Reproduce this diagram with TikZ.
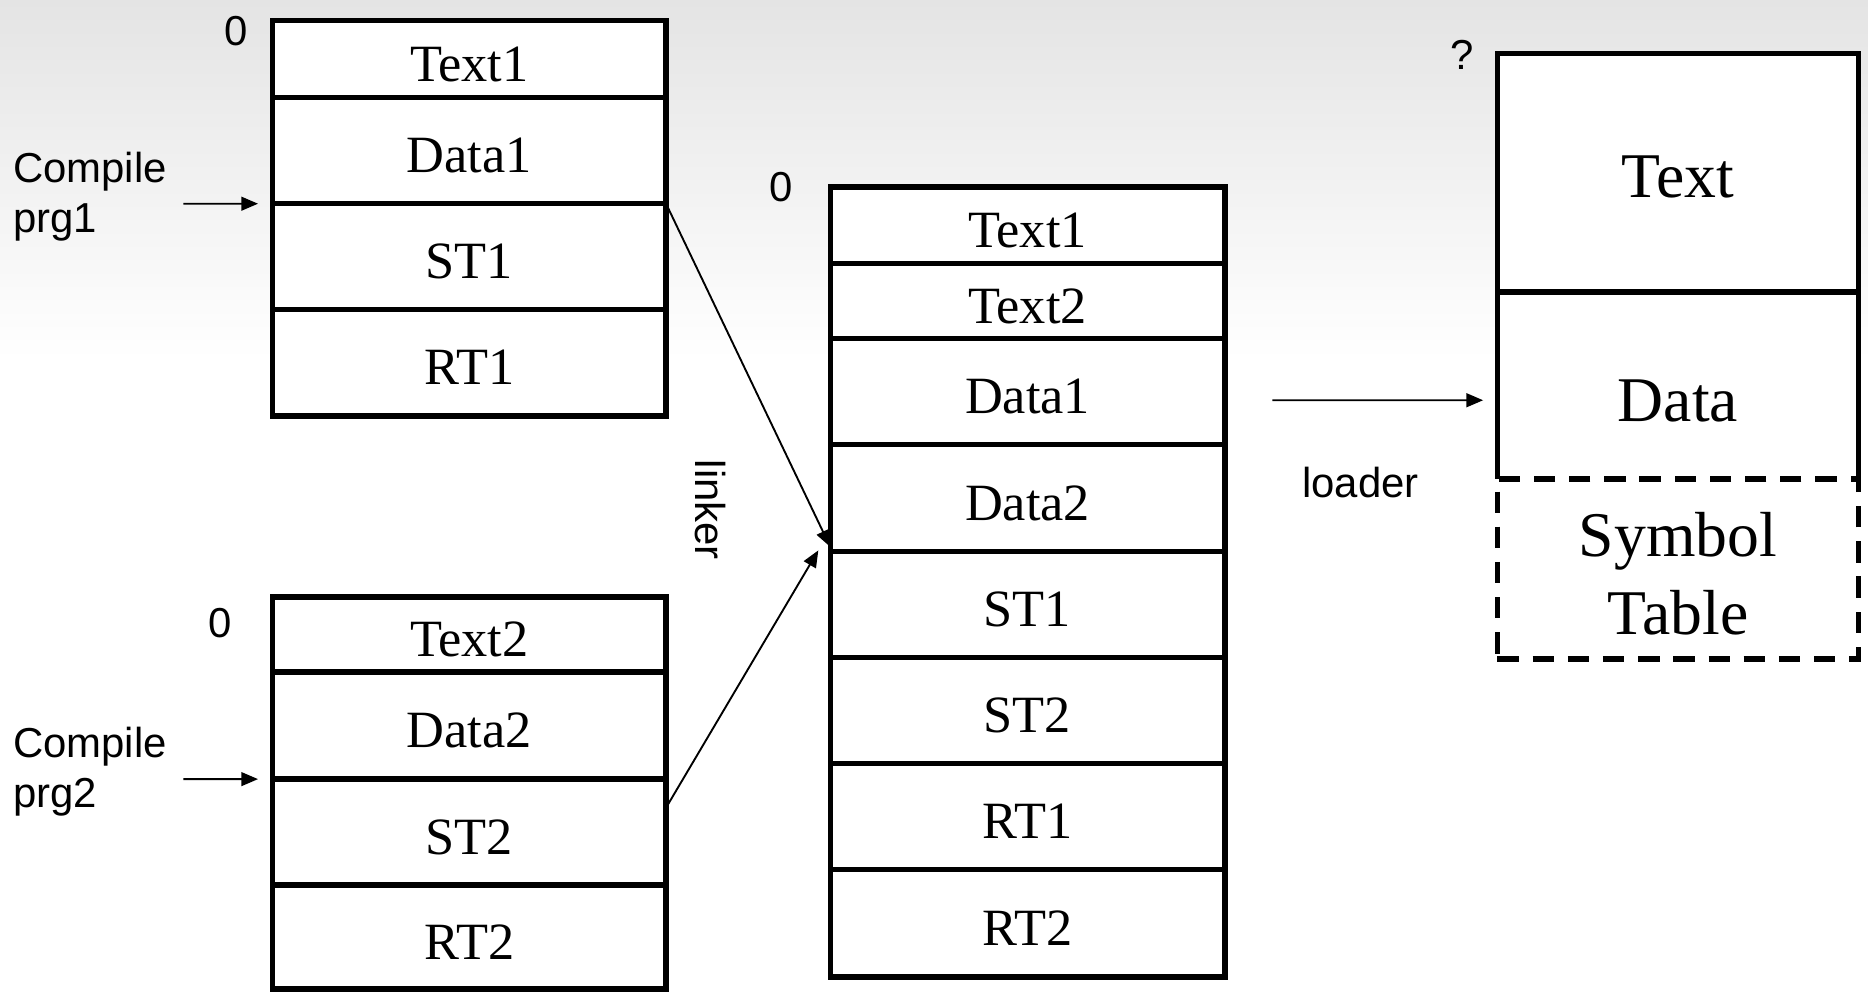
\documentclass[tikz,border=0pt]{standalone}
\usepackage{fontspec}
\setmainfont{Liberation Serif}
\setsansfont{Liberation Sans}
\usetikzlibrary{arrows.meta,calc}
\definecolor{bgtop}{RGB}{228,228,228}
\begin{document}
\begin{tikzpicture}[x=0.01cm, y=-0.01cm,
  seg/.style={draw, line width=1.3pt, fill=white, minimum width=3.30cm, inner sep=0pt, outer sep=0pt,
    font=\fontsize{12.5}{15}\selectfont, text height=10.6pt, text depth=0pt},
  rseg/.style={line width=1.3pt, fill=white, minimum width=3.03cm, inner sep=0pt, outer sep=0pt,
    font=\fontsize{15.2}{18.5}\selectfont},
  dashbox/.style={draw, dash pattern=on 5.1pt off 3.3pt},
  lab/.style={font=\sffamily\fontsize{10}{12}\selectfont, inner sep=0pt, outer sep=0pt},
  arr/.style={-{Triangle[length=4pt,width=3.3pt]}, line width=0.45pt},
  side/.style={line width=1.3pt}
]
% background
\shade[top color=bgtop, bottom color=white] (0,0) rectangle (1568,302);
\fill[white] (0,302) rectangle (1568,832);
\useasboundingbox (0,0) rectangle (1568,832);

% box 1
\node[seg, minimum height=0.65cm] (b1t) at (394,49.5) {Text1};
\node[seg, minimum height=0.89cm] (b1d) at (394,126.5) {Data1};
\node[seg, minimum height=0.89cm] (b1s) at (394,215.5) {ST1};
\node[seg, minimum height=0.89cm] (b1r) at (394,304.5) {RT1};

% box 2
\node[seg, minimum height=0.63cm] (b2t) at (394,532.5) {Text2};
\node[seg, minimum height=0.90cm] (b2d) at (394,609) {Data2};
\node[seg, minimum height=0.89cm] (b2s) at (394,698.5) {ST2};
\node[seg, minimum height=0.87cm] (b2r) at (394,786.5) {RT2};

% middle box
\node[seg, minimum width=3.31cm, minimum height=0.64cm] (mt1) at (862.5,189) {Text1};
\node[seg, minimum width=3.31cm, minimum height=0.63cm] (mt2) at (862.5,252.5) {Text2};
\node[seg, minimum width=3.31cm, minimum height=0.89cm] (md1) at (862.5,328.5) {Data1};
\node[seg, minimum width=3.31cm, minimum height=0.90cm] (md2) at (862.5,418) {Data2};
\node[seg, minimum width=3.31cm, minimum height=0.89cm] (mst1) at (862.5,507.5) {ST1};
\node[seg, minimum width=3.31cm, minimum height=0.89cm] (mst2) at (862.5,596.5) {ST2};
\node[seg, minimum width=3.31cm, minimum height=0.89cm] (mrt1) at (862.5,685.5) {RT1};
\node[seg, minimum width=3.31cm, minimum height=0.90cm] (mrt2) at (862.5,775) {RT2};

% right box
\node[rseg, minimum height=1.57cm, text height=17.4pt, text depth=0pt] (rd) at (1408.5,323.5) {Data};
\node[rseg, draw, minimum height=2.00cm, text height=11.9pt, text depth=0pt] (rt) at (1408.5,145) {Text};
\draw[side] (rd.north west) -- (rd.south west);
\draw[side] (rd.north east) -- (rd.south east);
\node[rseg, dashbox, minimum height=1.51cm] (rs) at (1408.5,477.5) {};
\node[font=\fontsize{15.2}{18.5}\selectfont, align=center, inner sep=0pt] (rst) at ($(rs.center)+(0,4)$) {Symbol\\Table};

% labels
\node[lab, anchor=base] (z1) at (198,38) {0};
\node[lab, anchor=base] (z2) at (184.5,535) {0};
\node[lab, anchor=base] (z3) at (656,169) {0};
\node[lab, anchor=base] (q) at (1227,58) {?};
\node[lab, anchor=west, align=left] (c1) at (11,165) {Compile\\prg1};
\node[lab, anchor=west, align=left] (c2) at (11,648) {Compile\\prg2};
\node[lab, rotate=-90] (lk) at (596,428) {linker};
\node[lab, anchor=base] (ld) at (1142,418) {loader};

% connectors
\coordinate (c1s) at (154,171);
\coordinate (c2s) at (154,654);
\draw[arr, shorten >=3.5pt] (c1s) -- (b1s.north west);
\draw[arr, shorten >=3.5pt] (c2s) -- (b2s.north west);

\coordinate (l1e) at ($(mst1.north west)+(0,-4)$);
\coordinate (l2s) at ($(b2s.north east)+(0,24)$);
\coordinate (l2e) at ($(mst1.north west)+(-10,-1)$);
\draw[arr] (b1s.north east) -- (l1e);
\draw[arr] (l2s) -- (l2e);

\coordinate (ls) at (1068,336);
\coordinate (le) at ($(rd.north west)+(0,91)$);
\draw[arr, shorten >=3.4pt] (ls) -- (le);
\end{tikzpicture}
\end{document}
